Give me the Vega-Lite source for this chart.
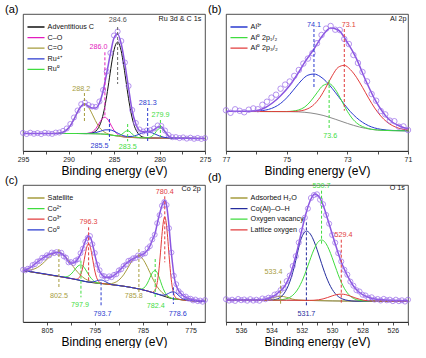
{
"$schema": "https://vega.github.io/schema/vega-lite/v6.json",
"background": "white",
"padding": {"left": 4, "top": 3, "right": 0, "bottom": 0},
"config": {
 "font": "Liberation Sans",
 "view": {"stroke": "#222", "strokeWidth": 0.8},
 "axis": {"grid": false, "domainColor": "#222", "domainWidth": 0.8, "tickColor": "#222", "tickWidth": 0.8, "tickSize": 3, "labelFontSize": 7, "labelColor": "#222", "labelPadding": 1.5, "labelFlush": false, "labelOverlap": false, "labelBound": false, "titleFontSize": 12, "titleFontWeight": "normal", "titleColor": "#000", "titlePadding": 3},
 "legend": {"orient": "top-left", "offset": 7.6, "padding": 0, "labelFontSize": 7.2, "labelColor": "#111", "labelOffset": 6.6, "rowPadding": 1.6, "symbolType": "M-2.2,0H2.2", "symbolSize": 60, "symbolStrokeWidth": 1.3, "symbolDash": [1, 0]},
 "title": {"fontSize": 11, "fontWeight": "normal", "color": "#000", "anchor": "start", "frame": "group"}
},
"columns": 2,
"spacing": {"row": 34, "column": 21},
"bounds": "flush",
"resolve": {"scale": {"color": "independent", "x": "independent", "y": "independent"}, "legend": {"color": "independent"}, "axis": {"x": "independent", "y": "independent"}},
"datasets": {
 "a_bg": [{"x":295,"y":17.5},{"x":289,"y":17.5},{"x":288,"y":17.4},{"x":287,"y":17.2},{"x":286,"y":16.8},{"x":285.5,"y":16.2},{"x":285,"y":15.5},{"x":284.5,"y":14.8},{"x":284,"y":14.2},{"x":283.5,"y":13.8},{"x":283,"y":13.5},{"x":282,"y":13.2},{"x":281,"y":13.0},{"x":275,"y":12.5}],
 "a_c": [
  {"s":"Adventitious C","x":295,"y":17.5},{"s":"Adventitious C","x":289,"y":17.5},{"s":"Adventitious C","x":288,"y":17.4},{"s":"Adventitious C","x":287.6,"y":17.7},{"s":"Adventitious C","x":287.3,"y":18.3},{"s":"Adventitious C","x":287.0,"y":19.9},{"s":"Adventitious C","x":286.7,"y":23.3},{"s":"Adventitious C","x":286.4,"y":29.7},{"s":"Adventitious C","x":286.1,"y":40.2},{"s":"Adventitious C","x":285.8,"y":55.2},{"s":"Adventitious C","x":285.5,"y":73.2},{"s":"Adventitious C","x":285.2,"y":91.1},{"s":"Adventitious C","x":284.9,"y":104.3},{"s":"Adventitious C","x":284.6,"y":108.9},{"s":"Adventitious C","x":284.3,"y":103.5},{"s":"Adventitious C","x":284.0,"y":89.5},{"s":"Adventitious C","x":283.7,"y":71.0},{"s":"Adventitious C","x":283.4,"y":52.3},{"s":"Adventitious C","x":283.1,"y":37.0},{"s":"Adventitious C","x":282.8,"y":26.1},{"s":"Adventitious C","x":282.5,"y":19.6},{"s":"Adventitious C","x":282.2,"y":16.0},{"s":"Adventitious C","x":281.9,"y":14.2},{"s":"Adventitious C","x":281.6,"y":13.5},{"s":"Adventitious C","x":281,"y":13.0},{"s":"Adventitious C","x":275,"y":12.5},
  {"s":"C–O","x":295,"y":17.5},{"s":"C–O","x":289,"y":17.5},{"s":"C–O","x":288.0,"y":17.55},{"s":"C–O","x":287.75,"y":17.85},{"s":"C–O","x":287.5,"y":18.5},{"s":"C–O","x":287.25,"y":19.95},{"s":"C–O","x":287.0,"y":22.4},{"s":"C–O","x":286.75,"y":25.8},{"s":"C–O","x":286.5,"y":29.6},{"s":"C–O","x":286.25,"y":32.7},{"s":"C–O","x":286.0,"y":33.8},{"s":"C–O","x":285.75,"y":32.3},{"s":"C–O","x":285.5,"y":28.8},{"s":"C–O","x":285.25,"y":24.55},{"s":"C–O","x":285.0,"y":20.7},{"s":"C–O","x":284.75,"y":17.85},{"s":"C–O","x":284.5,"y":16.0},{"s":"C–O","x":284.25,"y":15.0},{"s":"C–O","x":284.0,"y":14.35},{"s":"C–O","x":283.5,"y":13.8},{"s":"C–O","x":283,"y":13.5},{"s":"C–O","x":282,"y":13.2},{"s":"C–O","x":281,"y":13.0},{"s":"C–O","x":275,"y":12.5},
  {"s":"C=O","x":295,"y":17.5},{"s":"C=O","x":292,"y":17.5},{"s":"C=O","x":291.25,"y":17.7},{"s":"C=O","x":290.95,"y":18.0},{"s":"C=O","x":290.65,"y":18.7},{"s":"C=O","x":290.35,"y":20.1},{"s":"C=O","x":290.05,"y":22.4},{"s":"C=O","x":289.75,"y":26.0},{"s":"C=O","x":289.45,"y":30.8},{"s":"C=O","x":289.15,"y":36.3},{"s":"C=O","x":288.85,"y":41.5},{"s":"C=O","x":288.55,"y":45.5},{"s":"C=O","x":288.25,"y":47.0},{"s":"C=O","x":287.95,"y":45.4},{"s":"C=O","x":287.65,"y":41.5},{"s":"C=O","x":287.35,"y":36.1},{"s":"C=O","x":287.05,"y":30.5},{"s":"C=O","x":286.75,"y":25.6},{"s":"C=O","x":286.45,"y":21.9},{"s":"C=O","x":286.15,"y":19.5},{"s":"C=O","x":285.85,"y":17.8},{"s":"C=O","x":285.55,"y":16.8},{"s":"C=O","x":285.25,"y":16.05},{"s":"C=O","x":285,"y":15.5},{"s":"C=O","x":284.5,"y":14.8},{"s":"C=O","x":284,"y":14.2},{"s":"C=O","x":283,"y":13.5},{"s":"C=O","x":282,"y":13.2},{"s":"C=O","x":281,"y":13.0},{"s":"C=O","x":275,"y":12.5},
  {"s":"Ru⁴⁺","x":295,"y":17.5},{"s":"Ru⁴⁺","x":289,"y":17.5},{"s":"Ru⁴⁺","x":288,"y":17.5},{"s":"Ru⁴⁺","x":287.5,"y":17.7},{"s":"Ru⁴⁺","x":287,"y":18.45},{"s":"Ru⁴⁺","x":286.5,"y":19.7},{"s":"Ru⁴⁺","x":286,"y":21.1},{"s":"Ru⁴⁺","x":285.5,"y":21.2},{"s":"Ru⁴⁺","x":285,"y":19.8},{"s":"Ru⁴⁺","x":284.5,"y":17.5},{"s":"Ru⁴⁺","x":284,"y":15.45},{"s":"Ru⁴⁺","x":283.5,"y":14.5},{"s":"Ru⁴⁺","x":283,"y":14.6},{"s":"Ru⁴⁺","x":282.5,"y":15.8},{"s":"Ru⁴⁺","x":282,"y":17.6},{"s":"Ru⁴⁺","x":281.5,"y":18.95},{"s":"Ru⁴⁺","x":281.3,"y":19.1},{"s":"Ru⁴⁺","x":281,"y":18.7},{"s":"Ru⁴⁺","x":280.5,"y":17.0},{"s":"Ru⁴⁺","x":280,"y":15.0},{"s":"Ru⁴⁺","x":279.5,"y":13.7},{"s":"Ru⁴⁺","x":279,"y":13.1},{"s":"Ru⁴⁺","x":278.5,"y":12.8},{"s":"Ru⁴⁺","x":275,"y":12.5},
  {"s":"Ru⁰","x":295,"y":17.5},{"s":"Ru⁰","x":289,"y":17.5},{"s":"Ru⁰","x":287,"y":17.2},{"s":"Ru⁰","x":286,"y":16.8},{"s":"Ru⁰","x":285.0,"y":15.5},{"s":"Ru⁰","x":284.75,"y":15.3},{"s":"Ru⁰","x":284.5,"y":15.35},{"s":"Ru⁰","x":284.25,"y":16.1},{"s":"Ru⁰","x":284.0,"y":17.7},{"s":"Ru⁰","x":283.75,"y":19.55},{"s":"Ru⁰","x":283.5,"y":20.3},{"s":"Ru⁰","x":283.25,"y":19.2},{"s":"Ru⁰","x":283.0,"y":17.0},{"s":"Ru⁰","x":282.75,"y":15.05},{"s":"Ru⁰","x":282.5,"y":13.9},{"s":"Ru⁰","x":282.25,"y":13.4},{"s":"Ru⁰","x":282.0,"y":13.2},{"s":"Ru⁰","x":281.5,"y":13.1},{"s":"Ru⁰","x":281.25,"y":13.3},{"s":"Ru⁰","x":281.0,"y":13.9},{"s":"Ru⁰","x":280.75,"y":15.3},{"s":"Ru⁰","x":280.5,"y":17.8},{"s":"Ru⁰","x":280.25,"y":20.8},{"s":"Ru⁰","x":280.0,"y":22.7},{"s":"Ru⁰","x":279.9,"y":22.9},{"s":"Ru⁰","x":279.75,"y":22.5},{"s":"Ru⁰","x":279.5,"y":20.1},{"s":"Ru⁰","x":279.25,"y":17.2},{"s":"Ru⁰","x":279.0,"y":14.8},{"s":"Ru⁰","x":278.75,"y":13.5},{"s":"Ru⁰","x":278.5,"y":13.0},{"s":"Ru⁰","x":278.0,"y":12.75},{"s":"Ru⁰","x":275,"y":12.5}
 ],
 "a_e": [{"x":295,"y":17.5},{"x":291.8,"y":17.5},{"x":291.4,"y":17.6},{"x":291.0,"y":17.95},{"x":290.6,"y":18.9},{"x":290.2,"y":21.1},{"x":289.8,"y":25.3},{"x":289.4,"y":31.7},{"x":289.0,"y":39.1},{"x":288.6,"y":45.1},{"x":288.2,"y":47.0},{"x":287.8,"y":44.8},{"x":287.4,"y":43},{"x":287.0,"y":43},{"x":286.6,"y":48},{"x":286.2,"y":60},{"x":285.8,"y":78},{"x":285.4,"y":97},{"x":285.0,"y":113},{"x":284.6,"y":117},{"x":284.2,"y":107},{"x":283.8,"y":87},{"x":283.4,"y":63},{"x":283.0,"y":40},{"x":282.6,"y":27},{"x":282.2,"y":20.5},{"x":281.8,"y":19.2},{"x":281.4,"y":19.4},{"x":281.0,"y":19.8},{"x":280.6,"y":21.3},{"x":280.2,"y":24.1},{"x":279.8,"y":24.2},{"x":279.4,"y":19.6},{"x":279.0,"y":15.0},{"x":278.6,"y":13.2},{"x":278.2,"y":12.8},{"x":277.0,"y":12.67},{"x":275,"y":12.5}],
 "a_p": [{"x":295.0,"y":18.1},{"x":294.6,"y":17.0},{"x":294.2,"y":18.3},{"x":293.8,"y":17.2},{"x":293.4,"y":17.9},{"x":293.0,"y":16.9},{"x":292.6,"y":18.2},{"x":292.2,"y":17.6},{"x":291.8,"y":17.1},{"x":291.4,"y":18.4},{"x":291.0,"y":18.5},{"x":290.6,"y":20.1},{"x":290.2,"y":22.5},{"x":289.8,"y":27.0},{"x":289.4,"y":33.5},{"x":289.0,"y":40.5},{"x":288.6,"y":46.8},{"x":288.2,"y":48.5},{"x":287.8,"y":46.0},{"x":287.4,"y":44.5},{"x":287.0,"y":44.0},{"x":286.6,"y":49.5},{"x":286.2,"y":61.0},{"x":285.8,"y":79.5},{"x":285.4,"y":98.0},{"x":285.0,"y":115.5},{"x":284.6,"y":119.5},{"x":284.2,"y":110.0},{"x":283.8,"y":88.5},{"x":283.4,"y":65.0},{"x":283.0,"y":41.0},{"x":282.6,"y":28.0},{"x":282.2,"y":21.5},{"x":281.8,"y":19.5},{"x":281.4,"y":20.5},{"x":281.0,"y":20.8},{"x":280.6,"y":22.5},{"x":280.2,"y":25.5},{"x":279.8,"y":25.0},{"x":279.4,"y":20.5},{"x":279.0,"y":16.0},{"x":278.6,"y":13.8},{"x":278.2,"y":13.9},{"x":277.8,"y":12.9},{"x":277.4,"y":13.6},{"x":277.0,"y":12.4},{"x":276.6,"y":13.3},{"x":276.2,"y":12.2},{"x":275.8,"y":13.0},{"x":275.4,"y":12.1},{"x":275.0,"y":12.9}],
 "a_r": [{"s":"Adventitious C","x":284.6,"y":124,"y2":67},{"s":"C–O","x":286.0,"y":98.7,"y2":33.7},{"s":"C=O","x":288.25,"y":58,"y2":28},{"s":"Ru⁴⁺","x":285.5,"y":32,"y2":10.3},{"s":"Ru⁰","x":283.5,"y":27,"y2":9.7},{"s":"Ru⁴⁺","x":281.3,"y":43,"y2":8.7},{"s":"Ru⁰","x":279.9,"y":31,"y2":13.7}],
 "a_t": [{"s":"Adventitious C","x":284.6,"y":131,"t":"284.6"},{"s":"C–O","x":286.7,"y":103.7,"t":"286.0"},{"s":"C=O","x":288.6,"y":62,"t":"288.2"},{"s":"Ru⁴⁺","x":286.6,"y":5.3,"t":"285.5"},{"s":"Ru⁰","x":283.5,"y":4.3,"t":"283.5"},{"s":"Ru⁴⁺","x":281.3,"y":47.7,"t":"281.3"},{"s":"Ru⁰","x":279.9,"y":36.3,"t":"279.9"}],
 "a_n": [{"x":275.4,"y":132,"t":"Ru 3d & C 1s"}],

 "b_bg": [{"x":77,"y":39.5},{"x":76,"y":39.5},{"x":75,"y":39.4},{"x":74.6,"y":39.1},{"x":74.2,"y":38.0},{"x":73.8,"y":35.6},{"x":73.4,"y":31.8},{"x":73.0,"y":27.6},{"x":72.6,"y":24.0},{"x":72.2,"y":21.6},{"x":71.8,"y":20.6},{"x":71.4,"y":20.3},{"x":71.0,"y":20.2}],
 "b_c": [
  {"s":"Al³⁺","x":77,"y":39.5},{"s":"Al³⁺","x":76.5,"y":39.5},{"s":"Al³⁺","x":76.3,"y":39.6},{"s":"Al³⁺","x":76.1,"y":39.7},{"s":"Al³⁺","x":75.9,"y":40.1},{"s":"Al³⁺","x":75.7,"y":40.9},{"s":"Al³⁺","x":75.5,"y":42.55},{"s":"Al³⁺","x":75.3,"y":45.5},{"s":"Al³⁺","x":75.1,"y":50.1},{"s":"Al³⁺","x":74.9,"y":56.5},{"s":"Al³⁺","x":74.7,"y":63.85},{"s":"Al³⁺","x":74.5,"y":71.0},{"s":"Al³⁺","x":74.3,"y":75.8},{"s":"Al³⁺","x":74.1,"y":77.0},{"s":"Al³⁺","x":73.9,"y":74.6},{"s":"Al³⁺","x":73.7,"y":69.6},{"s":"Al³⁺","x":73.5,"y":62.6},{"s":"Al³⁺","x":73.3,"y":54.75},{"s":"Al³⁺","x":73.1,"y":46.75},{"s":"Al³⁺","x":72.9,"y":39.4},{"s":"Al³⁺","x":72.7,"y":33.4},{"s":"Al³⁺","x":72.5,"y":28.7},{"s":"Al³⁺","x":72.3,"y":25.3},{"s":"Al³⁺","x":72.1,"y":23.05},{"s":"Al³⁺","x":71.9,"y":21.75},{"s":"Al³⁺","x":71.7,"y":20.95},{"s":"Al³⁺","x":71.5,"y":20.55},{"s":"Al³⁺","x":71.0,"y":20.2},
  {"s":"Al⁰ 2p₁/₂","x":77,"y":39.5},{"s":"Al⁰ 2p₁/₂","x":75.5,"y":39.45},{"s":"Al⁰ 2p₁/₂","x":75.0,"y":39.5},{"s":"Al⁰ 2p₁/₂","x":74.8,"y":39.9},{"s":"Al⁰ 2p₁/₂","x":74.6,"y":41.1},{"s":"Al⁰ 2p₁/₂","x":74.4,"y":44.1},{"s":"Al⁰ 2p₁/₂","x":74.2,"y":50.1},{"s":"Al⁰ 2p₁/₂","x":74.0,"y":58.2},{"s":"Al⁰ 2p₁/₂","x":73.8,"y":65.5},{"s":"Al⁰ 2p₁/₂","x":73.6,"y":67.3},{"s":"Al⁰ 2p₁/₂","x":73.4,"y":61.7},{"s":"Al⁰ 2p₁/₂","x":73.2,"y":51.0},{"s":"Al⁰ 2p₁/₂","x":73.0,"y":39.7},{"s":"Al⁰ 2p₁/₂","x":72.8,"y":31.2},{"s":"Al⁰ 2p₁/₂","x":72.6,"y":26.0},{"s":"Al⁰ 2p₁/₂","x":72.4,"y":23.3},{"s":"Al⁰ 2p₁/₂","x":72.2,"y":21.7},{"s":"Al⁰ 2p₁/₂","x":72.0,"y":21.0},{"s":"Al⁰ 2p₁/₂","x":71.5,"y":20.35},{"s":"Al⁰ 2p₁/₂","x":71.0,"y":20.2},
  {"s":"Al⁰ 2p₃/₂","x":77,"y":39.5},{"s":"Al⁰ 2p₃/₂","x":75.5,"y":39.45},{"s":"Al⁰ 2p₃/₂","x":75.0,"y":39.4},{"s":"Al⁰ 2p₃/₂","x":74.7,"y":39.65},{"s":"Al⁰ 2p₃/₂","x":74.5,"y":40.4},{"s":"Al⁰ 2p₃/₂","x":74.3,"y":42.3},{"s":"Al⁰ 2p₃/₂","x":74.1,"y":46.45},{"s":"Al⁰ 2p₃/₂","x":73.9,"y":53.7},{"s":"Al⁰ 2p₃/₂","x":73.7,"y":64.0},{"s":"Al⁰ 2p₃/₂","x":73.5,"y":75.2},{"s":"Al⁰ 2p₃/₂","x":73.3,"y":83.7},{"s":"Al⁰ 2p₃/₂","x":73.1,"y":85.65},{"s":"Al⁰ 2p₃/₂","x":72.9,"y":81.4},{"s":"Al⁰ 2p₃/₂","x":72.7,"y":73.75},{"s":"Al⁰ 2p₃/₂","x":72.5,"y":63.7},{"s":"Al⁰ 2p₃/₂","x":72.3,"y":52.9},{"s":"Al⁰ 2p₃/₂","x":72.1,"y":43.05},{"s":"Al⁰ 2p₃/₂","x":71.9,"y":35.05},{"s":"Al⁰ 2p₃/₂","x":71.7,"y":29.1},{"s":"Al⁰ 2p₃/₂","x":71.5,"y":25.2},{"s":"Al⁰ 2p₃/₂","x":71.3,"y":22.75},{"s":"Al⁰ 2p₃/₂","x":71.1,"y":21.4},{"s":"Al⁰ 2p₃/₂","x":71.0,"y":21.0}
 ],
 "b_e": [{"x":77.0,"y":39.7},{"x":76.6,"y":39.7},{"x":76.2,"y":39.8},{"x":75.9,"y":41.0},{"x":75.7,"y":43.5},{"x":75.45,"y":48.5},{"x":75.2,"y":55.3},{"x":74.9,"y":65.5},{"x":74.64,"y":77},{"x":74.37,"y":90.3},{"x":74.1,"y":102},{"x":73.82,"y":115.3},{"x":73.55,"y":123},{"x":73.3,"y":121},{"x":73.0,"y":108.7},{"x":72.72,"y":93.7},{"x":72.4,"y":71},{"x":72.07,"y":50.3},{"x":71.74,"y":35.3},{"x":71.5,"y":28.5},{"x":71.3,"y":25.3},{"x":71.0,"y":22}],
 "b_p": [{"x":77.0,"y":40.7},{"x":76.85,"y":38.2},{"x":76.7,"y":41.7},{"x":76.55,"y":40.2},{"x":76.4,"y":38.75},{"x":76.25,"y":41.3},{"x":76.1,"y":42.6},{"x":75.95,"y":41.8},{"x":75.8,"y":46.2},{"x":75.65,"y":49.3},{"x":75.5,"y":53.4},{"x":75.35,"y":56.3},{"x":75.2,"y":62.3},{"x":75.05,"y":66.4},{"x":74.9,"y":69.5},{"x":74.75,"y":75.1},{"x":74.6,"y":81.0},{"x":74.45,"y":87.4},{"x":74.3,"y":92.4},{"x":74.15,"y":97.8},{"x":74.0,"y":107.8},{"x":73.85,"y":116.0},{"x":73.7,"y":122.4},{"x":73.55,"y":125.0},{"x":73.4,"y":121.3},{"x":73.25,"y":121.0},{"x":73.1,"y":112.0},{"x":72.95,"y":107.0},{"x":72.8,"y":96.0},{"x":72.65,"y":88.0},{"x":72.5,"y":79.0},{"x":72.35,"y":69.6},{"x":72.2,"y":57.0},{"x":72.05,"y":50.3},{"x":71.9,"y":40.0},{"x":71.75,"y":36.6},{"x":71.6,"y":30.4},{"x":71.45,"y":29.8},{"x":71.3,"y":24.3},{"x":71.15,"y":24.6},{"x":71.0,"y":21.0}],
 "b_r": [{"s":"Al³⁺","x":74.1,"y":122,"y2":63.7},{"s":"Al⁰ 2p₃/₂","x":73.1,"y":122,"y2":40.3},{"s":"Al⁰ 2p₁/₂","x":73.6,"y":71,"y2":22}],
 "b_t": [{"s":"Al³⁺","x":74.1,"y":126.3,"t":"74.1"},{"s":"Al⁰ 2p₃/₂","x":72.95,"y":126.3,"t":"73.1"},{"s":"Al⁰ 2p₁/₂","x":73.56,"y":15.3,"t":"73.6"}],
 "b_n": [{"x":71.05,"y":132,"t":"Al 2p"}],

 "c_bg": [{"x":810,"y":51.5},{"x":805,"y":47.5},{"x":800,"y":43.5},{"x":797,"y":40.5},{"x":795,"y":39.0},{"x":793,"y":38.2},{"x":790,"y":36.5},{"x":787,"y":34.2},{"x":784,"y":31.0},{"x":781,"y":26.5},{"x":779,"y":23.5},{"x":777,"y":22.3},{"x":775,"y":21.3},{"x":772,"y":20.5}],
 "c_c": [
  {"s":"Satellite","x":810,"y":51.9},{"s":"Satellite","x":809,"y":51.75},{"s":"Satellite","x":808,"y":52.5},{"s":"Satellite","x":807,"y":54.5},{"s":"Satellite","x":806,"y":58.0},{"s":"Satellite","x":805,"y":62.6},{"s":"Satellite","x":804,"y":67.0},{"s":"Satellite","x":803,"y":69.5},{"s":"Satellite","x":802.5,"y":69.6},{"s":"Satellite","x":802,"y":68.7},{"s":"Satellite","x":801,"y":64.6},{"s":"Satellite","x":800,"y":58.6},{"s":"Satellite","x":799,"y":52.2},{"s":"Satellite","x":798,"y":46.9},{"s":"Satellite","x":797,"y":43.1},{"s":"Satellite","x":796,"y":40.8},{"s":"Satellite","x":795,"y":39.4},{"s":"Satellite","x":794,"y":38.7},{"s":"Satellite","x":793,"y":38.35},{"s":"Satellite","x":792,"y":38.2},{"s":"Satellite","x":791,"y":39.1},{"s":"Satellite","x":790,"y":41.85},{"s":"Satellite","x":789,"y":47.15},{"s":"Satellite","x":788,"y":55.0},{"s":"Satellite","x":787,"y":62.6},{"s":"Satellite","x":786,"y":65.9},{"s":"Satellite","x":785.8,"y":66.0},{"s":"Satellite","x":785,"y":63.0},{"s":"Satellite","x":784,"y":54.6},{"s":"Satellite","x":783,"y":44.2},{"s":"Satellite","x":782,"y":35.4},{"s":"Satellite","x":781,"y":29.6},{"s":"Satellite","x":780,"y":26.0},{"s":"Satellite","x":779,"y":23.8},{"s":"Satellite","x":778,"y":22.95},{"s":"Satellite","x":776,"y":22.0},{"s":"Satellite","x":772,"y":20.5},
  {"s":"Co²⁺","x":810,"y":51.5},{"s":"Co²⁺","x":805,"y":47.5},{"s":"Co²⁺","x":802,"y":45.2},{"s":"Co²⁺","x":801.5,"y":45.0},{"s":"Co²⁺","x":801,"y":45.2},{"s":"Co²⁺","x":800.5,"y":46.0},{"s":"Co²⁺","x":800,"y":47.8},{"s":"Co²⁺","x":799.5,"y":50.4},{"s":"Co²⁺","x":799,"y":53.5},{"s":"Co²⁺","x":798.5,"y":56.1},{"s":"Co²⁺","x":797.9,"y":57.1},{"s":"Co²⁺","x":797.5,"y":56.0},{"s":"Co²⁺","x":797,"y":52.9},{"s":"Co²⁺","x":796.5,"y":48.9},{"s":"Co²⁺","x":796,"y":45.15},{"s":"Co²⁺","x":795.5,"y":42.3},{"s":"Co²⁺","x":795,"y":40.3},{"s":"Co²⁺","x":794.5,"y":39.3},{"s":"Co²⁺","x":794,"y":38.8},{"s":"Co²⁺","x":793,"y":38.2},{"s":"Co²⁺","x":790,"y":36.5},{"s":"Co²⁺","x":787,"y":34.2},{"s":"Co²⁺","x":786,"y":33.2},{"s":"Co²⁺","x":785.5,"y":33.0},{"s":"Co²⁺","x":785,"y":33.5},{"s":"Co²⁺","x":784.5,"y":35.25},{"s":"Co²⁺","x":784,"y":39.0},{"s":"Co²⁺","x":783.5,"y":44.25},{"s":"Co²⁺","x":783,"y":49.3},{"s":"Co²⁺","x":782.4,"y":51.6},{"s":"Co²⁺","x":782,"y":49.5},{"s":"Co²⁺","x":781.5,"y":43.75},{"s":"Co²⁺","x":781,"y":36.7},{"s":"Co²⁺","x":780.5,"y":30.95},{"s":"Co²⁺","x":780,"y":27.1},{"s":"Co²⁺","x":779.5,"y":24.95},{"s":"Co²⁺","x":779,"y":23.7},{"s":"Co²⁺","x":778,"y":22.9},{"s":"Co²⁺","x":776,"y":22.0},{"s":"Co²⁺","x":772,"y":20.5},
  {"s":"Co³⁺","x":810,"y":51.5},{"s":"Co³⁺","x":805,"y":47.5},{"s":"Co³⁺","x":800,"y":43.5},{"s":"Co³⁺","x":799.0,"y":42.75},{"s":"Co³⁺","x":798.7,"y":42.9},{"s":"Co³⁺","x":798.4,"y":43.7},{"s":"Co³⁺","x":798.1,"y":45.7},{"s":"Co³⁺","x":797.8,"y":49.4},{"s":"Co³⁺","x":797.5,"y":55.2},{"s":"Co³⁺","x":797.2,"y":62.7},{"s":"Co³⁺","x":796.9,"y":70.4},{"s":"Co³⁺","x":796.6,"y":76.2},{"s":"Co³⁺","x":796.3,"y":78.3},{"s":"Co³⁺","x":796.0,"y":75.95},{"s":"Co³⁺","x":795.7,"y":69.5},{"s":"Co³⁺","x":795.4,"y":61.3},{"s":"Co³⁺","x":795.1,"y":53.3},{"s":"Co³⁺","x":794.8,"y":47.0},{"s":"Co³⁺","x":794.5,"y":42.9},{"s":"Co³⁺","x":794.2,"y":40.5},{"s":"Co³⁺","x":793.9,"y":39.3},{"s":"Co³⁺","x":793.6,"y":38.65},{"s":"Co³⁺","x":793,"y":38.2},{"s":"Co³⁺","x":790,"y":36.5},{"s":"Co³⁺","x":787,"y":34.2},{"s":"Co³⁺","x":784,"y":31.0},{"s":"Co³⁺","x":783,"y":29.6},{"s":"Co³⁺","x":782.8,"y":30.1},{"s":"Co³⁺","x":782.5,"y":31.25},{"s":"Co³⁺","x":782.2,"y":34.6},{"s":"Co³⁺","x":781.9,"y":41.55},{"s":"Co³⁺","x":781.6,"y":53.2},{"s":"Co³⁺","x":781.3,"y":69.15},{"s":"Co³⁺","x":781.0,"y":86.5},{"s":"Co³⁺","x":780.7,"y":100.05},{"s":"Co³⁺","x":780.4,"y":105.1},{"s":"Co³⁺","x":780.1,"y":99.25},{"s":"Co³⁺","x":779.8,"y":84.7},{"s":"Co³⁺","x":779.5,"y":66.45},{"s":"Co³⁺","x":779.2,"y":49.6},{"s":"Co³⁺","x":778.9,"y":37.1},{"s":"Co³⁺","x":778.6,"y":29.5},{"s":"Co³⁺","x":778.3,"y":25.6},{"s":"Co³⁺","x":778.0,"y":23.8},{"s":"Co³⁺","x":777,"y":22.3},{"s":"Co³⁺","x":775,"y":21.3},{"s":"Co³⁺","x":772,"y":20.5},
  {"s":"Co⁰","x":810,"y":51.5},{"s":"Co⁰","x":800,"y":43.5},{"s":"Co⁰","x":797,"y":40.5},{"s":"Co⁰","x":796.7,"y":40.1},{"s":"Co⁰","x":796.2,"y":39.85},{"s":"Co⁰","x":795.7,"y":40.0},{"s":"Co⁰","x":795.2,"y":40.3},{"s":"Co⁰","x":794.7,"y":41.0},{"s":"Co⁰","x":794.2,"y":41.8},{"s":"Co⁰","x":793.7,"y":42.0},{"s":"Co⁰","x":793.2,"y":41.4},{"s":"Co⁰","x":792.7,"y":40.1},{"s":"Co⁰","x":792.2,"y":38.85},{"s":"Co⁰","x":791.7,"y":37.8},{"s":"Co⁰","x":791.2,"y":37.2},{"s":"Co⁰","x":790.7,"y":36.9},{"s":"Co⁰","x":787,"y":34.2},{"s":"Co⁰","x":784,"y":31.0},{"s":"Co⁰","x":782,"y":28.0},{"s":"Co⁰","x":781.6,"y":27.5},{"s":"Co⁰","x":781.1,"y":26.95},{"s":"Co⁰","x":780.6,"y":26.85},{"s":"Co⁰","x":780.1,"y":27.45},{"s":"Co⁰","x":779.6,"y":28.65},{"s":"Co⁰","x":779.1,"y":29.85},{"s":"Co⁰","x":778.6,"y":30.2},{"s":"Co⁰","x":778.1,"y":29.15},{"s":"Co⁰","x":777.6,"y":26.95},{"s":"Co⁰","x":777.1,"y":24.65},{"s":"Co⁰","x":776.6,"y":23.15},{"s":"Co⁰","x":776.1,"y":22.3},{"s":"Co⁰","x":775.6,"y":21.8},{"s":"Co⁰","x":772,"y":20.5}
 ],
 "c_e": [{"x":810,"y":51.5},{"x":809,"y":53},{"x":808,"y":56},{"x":807,"y":60},{"x":806,"y":63.5},{"x":805,"y":66.5},{"x":804,"y":68.5},{"x":803,"y":69.5},{"x":802.5,"y":69.5},{"x":802,"y":68.5},{"x":801,"y":64},{"x":800.3,"y":59},{"x":799.5,"y":59},{"x":798.5,"y":63.5},{"x":797.8,"y":70},{"x":797.2,"y":78},{"x":796.7,"y":84},{"x":796.3,"y":86},{"x":795.8,"y":83},{"x":795.3,"y":74},{"x":794.8,"y":63},{"x":794.2,"y":53},{"x":793.5,"y":47},{"x":792.6,"y":44.5},{"x":791.6,"y":45},{"x":790.5,"y":48.5},{"x":789.5,"y":53.3},{"x":788.5,"y":58.3},{"x":787.5,"y":62},{"x":786.8,"y":63.8},{"x":785.9,"y":66},{"x":784.7,"y":68.3},{"x":783.6,"y":75},{"x":783.0,"y":82},{"x":782.4,"y":89},{"x":781.9,"y":100},{"x":781.2,"y":113},{"x":780.7,"y":120},{"x":780.4,"y":121.5},{"x":780.0,"y":116},{"x":779.6,"y":100},{"x":779.1,"y":73},{"x":778.7,"y":55},{"x":778.4,"y":44},{"x":777.8,"y":34},{"x":777.0,"y":28.3},{"x":776.0,"y":24.5},{"x":775.0,"y":22.8},{"x":774.0,"y":21.7},{"x":773.0,"y":21.2},{"x":772.0,"y":21}],
 "c_p": [{"x":810,"y":52.3},{"x":809.5,"y":51.6},{"x":809,"y":53.3},{"x":808.5,"y":53.6},{"x":808,"y":57},{"x":807.5,"y":57.8},{"x":807,"y":60.5},{"x":806.5,"y":61.1},{"x":806,"y":64.3},{"x":805.5,"y":64.4},{"x":805,"y":66.8},{"x":804.5,"y":66.6},{"x":804,"y":69.5},{"x":803.5,"y":68.8},{"x":803,"y":70},{"x":802.5,"y":68.8},{"x":802,"y":69.3},{"x":801.5,"y":65.7},{"x":801,"y":64.3},{"x":800.5,"y":59.6},{"x":800,"y":60},{"x":799.5,"y":58.8},{"x":799,"y":61.5},{"x":798.5,"y":62.8},{"x":798,"y":68.8},{"x":797.5,"y":73.4},{"x":797,"y":80.3},{"x":796.5,"y":84.1},{"x":796,"y":86},{"x":795.5,"y":77.8},{"x":795,"y":69},{"x":794.5,"y":57.3},{"x":794,"y":51.8},{"x":793.5,"y":46.4},{"x":793,"y":45.8},{"x":792.5,"y":43.6},{"x":792,"y":45.7},{"x":791.5,"y":44.8},{"x":791,"y":47.2},{"x":790.5,"y":47.8},{"x":790,"y":51.6},{"x":789.5,"y":52.7},{"x":789,"y":56.1},{"x":788.5,"y":57.4},{"x":788,"y":61.2},{"x":787.5,"y":61.8},{"x":787,"y":63.8},{"x":786.5,"y":64},{"x":786,"y":66.6},{"x":785.5,"y":66.2},{"x":785,"y":68},{"x":784.5,"y":68.6},{"x":784,"y":73.6},{"x":783.5,"y":75.8},{"x":783,"y":82.5},{"x":782.5,"y":87.3},{"x":782,"y":98.8},{"x":781.5,"y":106.9},{"x":781,"y":116.3},{"x":780.5,"y":120.1},{"x":780,"y":117},{"x":779.5,"y":93.8},{"x":779,"y":69.5},{"x":778.5,"y":46.3},{"x":778,"y":37.8},{"x":777.5,"y":30.9},{"x":777,"y":28.6},{"x":776.5,"y":25.4},{"x":776,"y":25.5},{"x":775.5,"y":23.4},{"x":775,"y":23.3},{"x":774.5,"y":21.5},{"x":774,"y":22.5},{"x":773.5,"y":20.8},{"x":773,"y":21.5},{"x":772.5,"y":20.2},{"x":772,"y":22}],
 "c_r": [{"s":"Co³⁺","x":780.4,"y":125.7,"y2":59.7},{"s":"Co³⁺","x":796.3,"y":94.7,"y2":41.3},{"s":"Satellite","x":802.5,"y":73,"y2":34.7},{"s":"Co²⁺","x":797.9,"y":61.3,"y2":24.7},{"s":"Co⁰","x":793.7,"y":39.7,"y2":14.7},{"s":"Satellite","x":785.8,"y":73,"y2":29.7},{"s":"Co²⁺","x":782.4,"y":63,"y2":23},{"s":"Co⁰","x":778.6,"y":34.7,"y2":18}],
 "c_t": [{"s":"Co³⁺","x":780.4,"y":130.3,"t":"780.4"},{"s":"Co³⁺","x":796.3,"y":99.7,"t":"796.3"},{"s":"Satellite","x":802.5,"y":26.3,"t":"802.5"},{"s":"Co²⁺","x":798.1,"y":17,"t":"797.9"},{"s":"Co⁰","x":793.4,"y":8,"t":"793.7"},{"s":"Satellite","x":786.9,"y":26.3,"t":"785.8"},{"s":"Co²⁺","x":782.3,"y":16.3,"t":"782.4"},{"s":"Co⁰","x":777.7,"y":8,"t":"778.6"}],
 "c_n": [{"x":772.9,"y":133,"t":"Co 2p"}],

 "d_bg": [{"x":537,"y":21.8},{"x":533,"y":21.8},{"x":532,"y":21.7},{"x":531,"y":21.4},{"x":530,"y":21.1},{"x":529,"y":20.9},{"x":525,"y":20.8}],
 "d_c": [
  {"s":"Adsorbed H₂O","x":537,"y":21.8},{"s":"Adsorbed H₂O","x":535,"y":21.8},{"s":"Adsorbed H₂O","x":534.6,"y":22.0},{"s":"Adsorbed H₂O","x":534.2,"y":22.9},{"s":"Adsorbed H₂O","x":533.8,"y":24.7},{"s":"Adsorbed H₂O","x":533.4,"y":25.8},{"s":"Adsorbed H₂O","x":533.0,"y":24.65},{"s":"Adsorbed H₂O","x":532.6,"y":22.85},{"s":"Adsorbed H₂O","x":532.2,"y":21.9},{"s":"Adsorbed H₂O","x":531.8,"y":21.6},{"s":"Adsorbed H₂O","x":531,"y":21.4},{"s":"Adsorbed H₂O","x":530,"y":21.1},{"s":"Adsorbed H₂O","x":529,"y":20.9},{"s":"Adsorbed H₂O","x":525,"y":20.8},
  {"s":"Co(Al)–O–H","x":537,"y":21.8},{"s":"Co(Al)–O–H","x":535,"y":21.8},{"s":"Co(Al)–O–H","x":534.1,"y":21.95},{"s":"Co(Al)–O–H","x":533.9,"y":22.2},{"s":"Co(Al)–O–H","x":533.7,"y":22.7},{"s":"Co(Al)–O–H","x":533.5,"y":23.9},{"s":"Co(Al)–O–H","x":533.3,"y":26.2},{"s":"Co(Al)–O–H","x":533.1,"y":30.2},{"s":"Co(Al)–O–H","x":532.9,"y":36.1},{"s":"Co(Al)–O–H","x":532.7,"y":44.3},{"s":"Co(Al)–O–H","x":532.5,"y":55.2},{"s":"Co(Al)–O–H","x":532.3,"y":68.1},{"s":"Co(Al)–O–H","x":532.1,"y":80.8},{"s":"Co(Al)–O–H","x":531.9,"y":88.0},{"s":"Co(Al)–O–H","x":531.7,"y":90.9},{"s":"Co(Al)–O–H","x":531.5,"y":89.15},{"s":"Co(Al)–O–H","x":531.3,"y":84.3},{"s":"Co(Al)–O–H","x":531.1,"y":76.95},{"s":"Co(Al)–O–H","x":530.9,"y":67.98},{"s":"Co(Al)–O–H","x":530.7,"y":58.6},{"s":"Co(Al)–O–H","x":530.5,"y":49.65},{"s":"Co(Al)–O–H","x":530.3,"y":41.8},{"s":"Co(Al)–O–H","x":530.1,"y":35.35},{"s":"Co(Al)–O–H","x":529.9,"y":30.4},{"s":"Co(Al)–O–H","x":529.7,"y":26.85},{"s":"Co(Al)–O–H","x":529.5,"y":24.4},{"s":"Co(Al)–O–H","x":529.3,"y":22.9},{"s":"Co(Al)–O–H","x":529.1,"y":21.96},{"s":"Co(Al)–O–H","x":528.9,"y":21.43},{"s":"Co(Al)–O–H","x":528.5,"y":20.83},{"s":"Co(Al)–O–H","x":525,"y":20.8},
  {"s":"Oxygen vacancy","x":537,"y":21.8},{"s":"Oxygen vacancy","x":534,"y":21.8},{"s":"Oxygen vacancy","x":533.5,"y":22.1},{"s":"Oxygen vacancy","x":533.3,"y":22.4},{"s":"Oxygen vacancy","x":533.1,"y":22.9},{"s":"Oxygen vacancy","x":532.9,"y":23.9},{"s":"Oxygen vacancy","x":532.7,"y":25.5},{"s":"Oxygen vacancy","x":532.5,"y":28.2},{"s":"Oxygen vacancy","x":532.3,"y":32.0},{"s":"Oxygen vacancy","x":532.1,"y":37.3},{"s":"Oxygen vacancy","x":531.9,"y":44.0},{"s":"Oxygen vacancy","x":531.7,"y":52.0},{"s":"Oxygen vacancy","x":531.5,"y":60.45},{"s":"Oxygen vacancy","x":531.3,"y":68.8},{"s":"Oxygen vacancy","x":531.1,"y":75.75},{"s":"Oxygen vacancy","x":530.9,"y":80.5},{"s":"Oxygen vacancy","x":530.7,"y":82.0},{"s":"Oxygen vacancy","x":530.5,"y":80.35},{"s":"Oxygen vacancy","x":530.3,"y":75.5},{"s":"Oxygen vacancy","x":530.1,"y":68.45},{"s":"Oxygen vacancy","x":529.9,"y":60.0},{"s":"Oxygen vacancy","x":529.7,"y":51.45},{"s":"Oxygen vacancy","x":529.5,"y":43.3},{"s":"Oxygen vacancy","x":529.3,"y":36.6},{"s":"Oxygen vacancy","x":529.1,"y":31.2},{"s":"Oxygen vacancy","x":528.9,"y":27.3},{"s":"Oxygen vacancy","x":528.7,"y":24.6},{"s":"Oxygen vacancy","x":528.5,"y":22.9},{"s":"Oxygen vacancy","x":528.3,"y":21.96},{"s":"Oxygen vacancy","x":528.1,"y":21.4},{"s":"Oxygen vacancy","x":527.9,"y":21.1},{"s":"Oxygen vacancy","x":527,"y":20.8},{"s":"Oxygen vacancy","x":525,"y":20.8},
  {"s":"Lattice oxygen","x":537,"y":21.8},{"s":"Lattice oxygen","x":533,"y":21.8},{"s":"Lattice oxygen","x":532,"y":21.7},{"s":"Lattice oxygen","x":531.5,"y":21.6},{"s":"Lattice oxygen","x":531.2,"y":21.77},{"s":"Lattice oxygen","x":530.9,"y":22.2},{"s":"Lattice oxygen","x":530.6,"y":23.1},{"s":"Lattice oxygen","x":530.3,"y":24.5},{"s":"Lattice oxygen","x":530.0,"y":26.1},{"s":"Lattice oxygen","x":529.7,"y":27.4},{"s":"Lattice oxygen","x":529.4,"y":27.9},{"s":"Lattice oxygen","x":529.1,"y":27.3},{"s":"Lattice oxygen","x":528.8,"y":25.9},{"s":"Lattice oxygen","x":528.5,"y":24.2},{"s":"Lattice oxygen","x":528.2,"y":22.8},{"s":"Lattice oxygen","x":527.9,"y":21.75},{"s":"Lattice oxygen","x":527.6,"y":21.2},{"s":"Lattice oxygen","x":527.3,"y":20.94},{"s":"Lattice oxygen","x":525,"y":20.8}
 ],
 "d_e": [{"x":537,"y":22.0},{"x":535,"y":22.0},{"x":534.7,"y":22.3},{"x":534.3,"y":23.3},{"x":533.9,"y":25.5},{"x":533.5,"y":30},{"x":533.1,"y":36.5},{"x":532.7,"y":50},{"x":532.3,"y":72},{"x":532.0,"y":92},{"x":531.7,"y":110},{"x":531.4,"y":123},{"x":531.15,"y":128},{"x":530.9,"y":126},{"x":530.6,"y":117},{"x":530.3,"y":103},{"x":530.0,"y":88},{"x":529.7,"y":73.5},{"x":529.4,"y":60},{"x":529.0,"y":46.5},{"x":528.6,"y":36},{"x":528.2,"y":29.5},{"x":527.7,"y":25.2},{"x":527.2,"y":23.0},{"x":526.5,"y":22.0},{"x":525.8,"y":21.5},{"x":525,"y":21.3}],
 "d_p": [{"x":537.0,"y":22.8},{"x":536.8,"y":21.4},{"x":536.6,"y":22.3},{"x":536.4,"y":21.1},{"x":536.2,"y":23.0},{"x":536.0,"y":21.8},{"x":535.8,"y":22.5},{"x":535.6,"y":21.3},{"x":535.4,"y":22.8},{"x":535.2,"y":21.4},{"x":535.0,"y":22.3},{"x":534.8,"y":21.3},{"x":534.6,"y":23.5},{"x":534.4,"y":22.8},{"x":534.2,"y":24.3},{"x":534.0,"y":24.2},{"x":533.8,"y":27.4},{"x":533.6,"y":28.3},{"x":533.4,"y":31.9},{"x":533.2,"y":34.0},{"x":533.0,"y":40.9},{"x":532.8,"y":46.4},{"x":532.6,"y":56.0},{"x":532.4,"y":65.8},{"x":532.2,"y":79.5},{"x":532.0,"y":91.4},{"x":531.8,"y":104.3},{"x":531.6,"y":113.4},{"x":531.4,"y":124},{"x":531.2,"y":127},{"x":531.0,"y":127.7},{"x":530.8,"y":122.3},{"x":530.6,"y":117.8},{"x":530.4,"y":107.1},{"x":530.2,"y":98.3},{"x":530.0,"y":87.1},{"x":529.8,"y":79.3},{"x":529.6,"y":68.8},{"x":529.4,"y":60.5},{"x":529.2,"y":52.3},{"x":529.0,"y":47.3},{"x":528.8,"y":40.4},{"x":528.6,"y":36.3},{"x":528.4,"y":31.8},{"x":528.2,"y":30.5},{"x":528.0,"y":27.3},{"x":527.8,"y":26.5},{"x":527.6,"y":24.1},{"x":527.4,"y":24.7},{"x":527.2,"y":22.4},{"x":527.0,"y":23.0},{"x":526.8,"y":21.5},{"x":526.6,"y":23.1},{"x":526.4,"y":21.7},{"x":526.2,"y":22.3},{"x":526.0,"y":20.9},{"x":525.8,"y":22.3},{"x":525.6,"y":20.85},{"x":525.4,"y":21.7},{"x":525.2,"y":20.45},{"x":525.0,"y":22.3}],
 "d_r": [{"s":"Oxygen vacancy","x":530.7,"y":131.3,"y2":78},{"s":"Lattice oxygen","x":529.4,"y":82.3,"y2":18},{"s":"Adsorbed H₂O","x":533.4,"y":41.3,"y2":16.3},{"s":"Co(Al)–O–H","x":531.7,"y":99.7,"y2":14.7}],
 "d_t": [{"s":"Oxygen vacancy","x":530.7,"y":135.7,"t":"530.7"},{"s":"Lattice oxygen","x":529.26,"y":87,"t":"529.4"},{"s":"Adsorbed H₂O","x":533.86,"y":50.3,"t":"533.4"},{"s":"Co(Al)–O–H","x":531.7,"y":8,"t":"531.7"}],
 "d_n": [{"x":525.2,"y":133.7,"t":"O 1s"}]
},
"concat": [
 {
  "width": 182, "height": 137,
  "title": {"text": "(a)", "dx": -18, "dy": 7, "offset": -3, "baseline": "alphabetic"},
  "encoding": {
   "x": {"field": "x", "type": "quantitative", "scale": {"domain": [295, 275], "nice": false, "zero": false}, "axis": {"values": [295, 292.5, 290, 287.5, 285, 282.5, 280, 277.5, 275], "labelExpr": "datum.value % 5 === 0 ? datum.label : ''", "title": "Binding energy (eV)"}},
   "y": {"field": "y", "type": "quantitative", "scale": {"domain": [0, 137], "nice": false, "zero": false}, "axis": null}
  },
  "layer": [
   {"data": {"name": "a_bg"}, "mark": {"type": "line", "color": "#8a8a8a", "strokeWidth": 1, "interpolate": "monotone"}, "encoding": {}},
   {"data": {"name": "a_c"}, "mark": {"type": "line", "strokeWidth": 1, "interpolate": "monotone"}, "encoding": {"color": {"field": "s", "type": "nominal", "scale": {"domain": ["Adventitious C", "C–O", "C=O", "Ru⁴⁺", "Ru⁰"], "range": ["#111111", "#e31cbe", "#a69c3e", "#2a3acf", "#3fdc3f"]}, "legend": {"title": null}}}},
   {"data": {"name": "a_e"}, "mark": {"type": "line", "color": "#8a55e0", "strokeWidth": 1.5, "interpolate": "monotone"}, "encoding": {}},
   {"data": {"name": "a_p"}, "mark": {"type": "point", "shape": "circle", "filled": false, "size": 26, "strokeWidth": 0.8, "color": "#9a6cea", "opacity": 0.9}},
   {"data": {"name": "a_r"}, "mark": {"type": "rule", "strokeDash": [3, 2], "strokeWidth": 1}, "encoding": {"y2": {"field": "y2"}, "color": {"condition": {"test": "datum.s === 'Adventitious C'", "value": "#666666"}, "field": "s", "type": "nominal"}}},
   {"data": {"name": "a_t"}, "mark": {"type": "text", "fontSize": 7.2, "baseline": "middle"}, "encoding": {"text": {"field": "t"}, "color": {"condition": {"test": "datum.s === 'Adventitious C'", "value": "#555555"}, "field": "s", "type": "nominal"}}},
   {"data": {"name": "a_n"}, "mark": {"type": "text", "fontSize": 7.2, "align": "right", "baseline": "middle", "color": "#111"}, "encoding": {"text": {"field": "t"}}}
  ]
 },
 {
  "width": 182, "height": 137,
  "title": {"text": "(b)", "dx": -18, "dy": 7, "offset": -3, "baseline": "alphabetic"},
  "encoding": {
   "x": {"field": "x", "type": "quantitative", "scale": {"domain": [77, 71], "nice": false, "zero": false}, "axis": {"values": [77, 76, 75, 74, 73, 72, 71], "labelExpr": "datum.value % 2 === 1 ? datum.label : ''", "title": "Binding energy (eV)"}},
   "y": {"field": "y", "type": "quantitative", "scale": {"domain": [0, 137], "nice": false, "zero": false}, "axis": null}
  },
  "layer": [
   {"data": {"name": "b_bg"}, "mark": {"type": "line", "color": "#8a8a8a", "strokeWidth": 1, "interpolate": "monotone"}, "encoding": {}},
   {"data": {"name": "b_c"}, "mark": {"type": "line", "strokeWidth": 1, "interpolate": "monotone"}, "encoding": {"color": {"field": "s", "type": "nominal", "scale": {"domain": ["Al³⁺", "Al⁰ 2p₁/₂", "Al⁰ 2p₃/₂"], "range": ["#2a3acf", "#3fdc3f", "#e23c3c"]}, "legend": {"title": null}}}},
   {"data": {"name": "b_e"}, "mark": {"type": "line", "color": "#8a55e0", "strokeWidth": 1.5, "interpolate": "monotone"}, "encoding": {}},
   {"data": {"name": "b_p"}, "mark": {"type": "point", "shape": "circle", "filled": false, "size": 30, "strokeWidth": 0.8, "color": "#9a6cea", "opacity": 0.9}},
   {"data": {"name": "b_r"}, "mark": {"type": "rule", "strokeDash": [3, 2], "strokeWidth": 1}, "encoding": {"y2": {"field": "y2"}, "color": {"field": "s", "type": "nominal"}}},
   {"data": {"name": "b_t"}, "mark": {"type": "text", "fontSize": 7.2, "baseline": "middle"}, "encoding": {"text": {"field": "t"}, "color": {"field": "s", "type": "nominal"}}},
   {"data": {"name": "b_n"}, "mark": {"type": "text", "fontSize": 7.2, "align": "right", "baseline": "middle", "color": "#111"}, "encoding": {"text": {"field": "t"}}}
  ]
 },
 {
  "width": 182, "height": 137,
  "title": {"text": "(c)", "dx": -18, "dy": 7, "offset": -3, "baseline": "alphabetic"},
  "encoding": {
   "x": {"field": "x", "type": "quantitative", "scale": {"domain": [810, 772], "nice": false, "zero": false}, "axis": {"values": [805, 800, 795, 790, 785, 780, 775], "labelExpr": "datum.value % 10 === 5 ? datum.label : ''", "title": "Binding energy (eV)"}},
   "y": {"field": "y", "type": "quantitative", "scale": {"domain": [0, 137], "nice": false, "zero": false}, "axis": null}
  },
  "layer": [
   {"data": {"name": "c_bg"}, "mark": {"type": "line", "color": "#222222", "strokeWidth": 1, "interpolate": "monotone"}, "encoding": {}},
   {"data": {"name": "c_c"}, "mark": {"type": "line", "strokeWidth": 1, "interpolate": "monotone"}, "encoding": {"color": {"field": "s", "type": "nominal", "scale": {"domain": ["Satellite", "Co²⁺", "Co³⁺", "Co⁰"], "range": ["#a69c3e", "#3fdc3f", "#e23c3c", "#2a3acf"]}, "legend": {"title": null}}}},
   {"data": {"name": "c_e"}, "mark": {"type": "line", "color": "#8a55e0", "strokeWidth": 1.5, "interpolate": "monotone"}, "encoding": {}},
   {"data": {"name": "c_p"}, "mark": {"type": "point", "shape": "circle", "filled": false, "size": 24, "strokeWidth": 0.8, "color": "#9a6cea", "opacity": 0.9}},
   {"data": {"name": "c_r"}, "mark": {"type": "rule", "strokeDash": [3, 2], "strokeWidth": 1}, "encoding": {"y2": {"field": "y2"}, "color": {"field": "s", "type": "nominal"}}},
   {"data": {"name": "c_t"}, "mark": {"type": "text", "fontSize": 7.2, "baseline": "middle"}, "encoding": {"text": {"field": "t"}, "color": {"field": "s", "type": "nominal"}}},
   {"data": {"name": "c_n"}, "mark": {"type": "text", "fontSize": 7.2, "align": "right", "baseline": "middle", "color": "#111"}, "encoding": {"text": {"field": "t"}}}
  ]
 },
 {
  "width": 182, "height": 137,
  "title": {"text": "(d)", "dx": -18, "dy": 7, "offset": -3, "baseline": "alphabetic"},
  "encoding": {
   "x": {"field": "x", "type": "quantitative", "scale": {"domain": [537, 525], "nice": false, "zero": false}, "axis": {"values": [537, 536, 535, 534, 533, 532, 531, 530, 529, 528, 527, 526, 525], "labelExpr": "datum.value % 2 === 0 ? datum.label : ''", "title": "Binding energy (eV)"}},
   "y": {"field": "y", "type": "quantitative", "scale": {"domain": [0, 137], "nice": false, "zero": false}, "axis": null}
  },
  "layer": [
   {"data": {"name": "d_bg"}, "mark": {"type": "line", "color": "#8a8a8a", "strokeWidth": 1, "interpolate": "monotone"}, "encoding": {}},
   {"data": {"name": "d_c"}, "mark": {"type": "line", "strokeWidth": 1, "interpolate": "monotone"}, "encoding": {"color": {"field": "s", "type": "nominal", "scale": {"domain": ["Adsorbed H₂O", "Co(Al)–O–H", "Oxygen vacancy", "Lattice oxygen"], "range": ["#a69c3e", "#242c9e", "#3fdc3f", "#e23c3c"]}, "legend": {"title": null}}}},
   {"data": {"name": "d_e"}, "mark": {"type": "line", "color": "#8a55e0", "strokeWidth": 1.5, "interpolate": "monotone"}, "encoding": {}},
   {"data": {"name": "d_p"}, "mark": {"type": "point", "shape": "circle", "filled": false, "size": 26, "strokeWidth": 0.8, "color": "#9a6cea", "opacity": 0.9}},
   {"data": {"name": "d_r"}, "mark": {"type": "rule", "strokeDash": [3, 2], "strokeWidth": 1}, "encoding": {"y2": {"field": "y2"}, "color": {"field": "s", "type": "nominal"}}},
   {"data": {"name": "d_t"}, "mark": {"type": "text", "fontSize": 7.2, "baseline": "middle"}, "encoding": {"text": {"field": "t"}, "color": {"field": "s", "type": "nominal"}}},
   {"data": {"name": "d_n"}, "mark": {"type": "text", "fontSize": 7.2, "align": "right", "baseline": "middle", "color": "#111"}, "encoding": {"text": {"field": "t"}}}
  ]
 }
]
}
